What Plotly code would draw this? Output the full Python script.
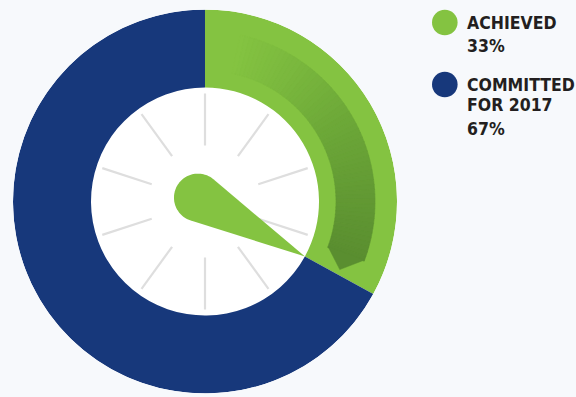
import math
import plotly.graph_objects as go

# ---------------- data ----------------
categories = ["ACHIEVED", "COMMITTED FOR 2017"]
legend_lines = [["ACHIEVED"], ["COMMITTED", "FOR 2017"]]
values = [33, 67]
value_labels = ["33%", "67%"]
colors = ["#84c341", "#17387b"]
dial_tick_count = 10

# ---------------- geometry / style ----------------
W, H = 576, 397
cx, cy, R = 205, 201.5, 192
R_in = 114
TEXT = "#231f20"
FONT = "DejaVu Sans Condensed, DejaVu Sans, sans-serif"

fig = go.Figure()

# donut ring (values -> angular widths)
total = sum(values)
widths = [v / total * 360 for v in values]
starts = [sum(widths[:i]) for i in range(len(widths))]
mids = [s + w / 2 for s, w in zip(starts, widths)]
fig.add_trace(go.Barpolar(
    r=[R - R_in] * len(values), base=[R_in] * len(values),
    theta=mids, width=widths,
    marker=dict(color=colors, line=dict(width=0)),
    hoverinfo="skip", showlegend=False,
))

# dial tick marks
tr, tt = [], []
for k in range(dial_tick_count):
    a = k * 360 / dial_tick_count
    tr += [56, 108, None]
    tt += [a, a, None]
fig.add_trace(go.Scatterpolar(r=tr, theta=tt, mode="lines",
                              line=dict(color="#dedede", width=2.2),
                              hoverinfo="skip", showlegend=False))

# gradient arrow band inside the achieved sector
end_angle = widths[0] - 8.3
band_start = 12.0
stops = [(0.0, (0x84, 0xc3, 0x41)), (0.2, (0x7b, 0xb9, 0x3e)),
         (0.5, (0x6c, 0xa7, 0x38)), (1.0, (0x5a, 0x8e, 0x30))]


def grad(f):
    for (f0, c0), (f1, c1) in zip(stops[:-1], stops[1:]):
        if f <= f1:
            t = (f - f0) / (f1 - f0)
            return "rgb(%d,%d,%d)" % tuple(round(a + (b - a) * t) for a, b in zip(c0, c1))
    return "rgb(%d,%d,%d)" % stops[-1][1]


nseg = 60
step = (end_angle - band_start) / nseg
seg_theta = [band_start + step * (i + 0.5) for i in range(nseg)]
seg_col = [grad((i + 0.5) / nseg) for i in range(nseg)]
fig.add_trace(go.Barpolar(
    r=[39] * nseg, base=[131] * nseg, theta=seg_theta, width=[step * 1.05] * nseg,
    marker=dict(color=seg_col, line=dict(width=0.6, color=seg_col)),
    hoverinfo="skip", showlegend=False,
))
fig.add_trace(go.Scatterpolar(
    r=[131, 151, 170, 131], theta=[end_angle - 0.4, widths[0] - 2, end_angle - 0.4, end_angle - 0.4],
    mode="lines", fill="toself", fillcolor=grad(1.0), line=dict(width=0.5, color=grad(1.0)),
    hoverinfo="skip", showlegend=False,
))

# needle pointing at the achieved boundary
T = math.radians(widths[0])
u = (math.sin(T), math.cos(T))
v = (math.cos(T), -math.sin(T))
back, rb = 8, 24
b = (-back * u[0], -back * u[1])
d = R_in + back
alpha = math.acos(rb / d)
nr, nt = [], []
n = 60
for i in range(n + 1):
    phi = alpha + (2 * math.pi - 2 * alpha) * i / n
    px = b[0] + rb * (math.cos(phi) * u[0] + math.sin(phi) * v[0])
    py = b[1] + rb * (math.cos(phi) * u[1] + math.sin(phi) * v[1])
    nr.append(math.hypot(px, py))
    nt.append(math.degrees(math.atan2(px, py)) % 360)
nr += [R_in, nr[0]]
nt += [widths[0], nt[0]]
fig.add_trace(go.Scatterpolar(r=nr, theta=nt, mode="lines", fill="toself",
                              fillcolor=colors[0], line=dict(width=0, color=colors[0]),
                              hoverinfo="skip", showlegend=False))

# ---------------- custom legend ----------------
shapes, annotations = [], []
legend_rows = [22.5, 84.5]
for i, (lines, pct, col) in enumerate(zip(legend_lines, value_labels, colors)):
    ycen = legend_rows[i]
    rr = 12.8
    xc = 444.8
    shapes.append(dict(type="circle", xref="paper", yref="paper",
                       x0=(xc - rr) / W, x1=(xc + rr) / W,
                       y0=1 - (ycen + rr) / H, y1=1 - (ycen - rr) / H,
                       fillcolor=col, line=dict(width=0)))
    allrows = [(t, False) for t in lines] + [(pct, True)]
    for j, (txt, bold) in enumerate(allrows):
        yc = ycen + j * 20.5 + (3 if bold else 0)
        annotations.append(dict(
            xref="paper", yref="paper", x=465 / W, y=1 - yc / H,
            xanchor="left", yanchor="middle", showarrow=False,
            text="<b>%s</b>" % txt,
            font=dict(family=FONT, size=17.5, color=TEXT),
        ))

fig.update_layout(
    width=W, height=H, autosize=False,
    margin=dict(l=0, r=0, t=0, b=0),
    paper_bgcolor="#f7f9fc",
    shapes=shapes, annotations=annotations,
    showlegend=False,
    polar=dict(
        domain=dict(x=[(cx - R) / W, (cx + R) / W], y=[(H - cy - R) / H, (H - cy + R) / H]),
        bgcolor="white", bargap=0,
        radialaxis=dict(range=[0, R], visible=False, showgrid=False),
        angularaxis=dict(visible=False, showgrid=False, rotation=90, direction="clockwise"),
    ),
)

fig.write_html("out.html", config={"displayModeBar": False},
               post_script="document.body.style.margin='0';document.body.style.background='#f7f9fc';")
